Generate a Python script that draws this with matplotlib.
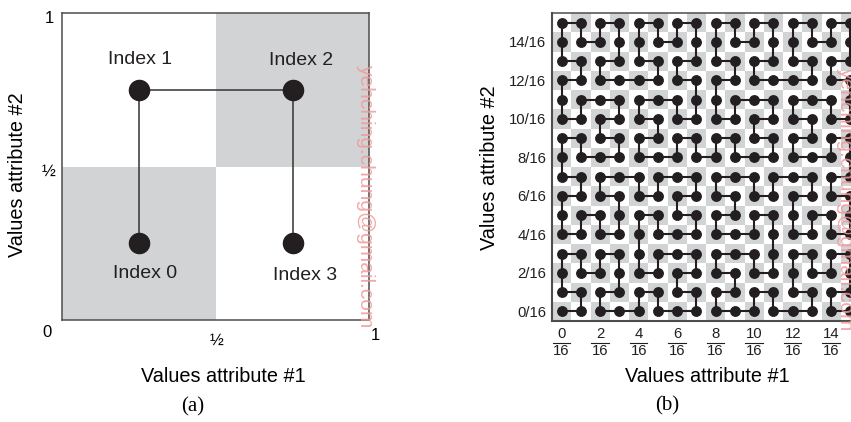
import numpy as np
import matplotlib
matplotlib.use("Agg")
import matplotlib.pyplot as plt
from matplotlib.colors import ListedColormap
import matplotlib.transforms as mtransforms

plt.rcParams['font.family'] = ['Liberation Sans', 'DejaVu Sans']

# ---------------- data ----------------
# panel (a): order-1 curve
idx_x = [0.25, 0.25, 0.75, 0.75]
idx_y = [0.25, 0.75, 0.75, 0.25]
idx_labels = ["Index 0", "Index 1", "Index 2", "Index 3"]
a_tick_labels = ["0", "\u00bd", "1"]

# panel (b): order-4 curve as a sequence of unit moves
MOVES = (
    "RULUURDRURDDLDR" "R" "URDRRULURULLDLU" "U" "URDRRULURULLDLU" "L" "LDRDDLULDLUURUL"
    "U"
    "URDRRULURULLDLU" "U" "RULUURDRURDDLDR" "R" "RULUURDRURDDLDR" "D" "DLULLDRDLDRRURD"
    "R"
    "URDRRULURULLDLU" "U" "RULUURDRURDDLDR" "R" "RULUURDRURDDLDR" "D" "DLULLDRDLDRRURD"
    "D"
    "LDRDDLULDLUURUL" "L" "DLULLDRDLDRRURD" "D" "DLULLDRDLDRRURD" "R" "RULUURDRURDDLDR"
)
GRID_N = 16
b_tick_nums = [0, 2, 4, 6, 8, 10, 12, 14]
b_tick_den = 16

GREY = "#d1d3d4"
INK = "#231f20"
WATER = "#f19a9a"

W, H = 851, 422
fig = plt.figure(figsize=(W / 100, H / 100), dpi=100)

def fx(px):
    return px / W

def fy(py):
    return 1 - py / H

# ---------------- panel (a) ----------------
axa = fig.add_axes([fx(62.3), fy(320), 307 / W, 306.7 / H])
axa.set_xlim(0, 1)
axa.set_ylim(0, 1)
cmap = ListedColormap(["white", GREY])
checker_a = np.array([[1, 0], [0, 1]])
axa.pcolormesh([0, 0.5, 1], [0, 0.5, 1], checker_a, cmap=cmap, vmin=0, vmax=1)
axa.plot(idx_x, idx_y, color="#333333", lw=1.1, zorder=2)
axa.plot(idx_x, idx_y, 'o', color=INK, ms=14.5, zorder=3, lw=0)
offs = [(4, -22), (1, 22), (6, 21), (9, -23)]
for x, y, lab, off in zip(idx_x, idx_y, idx_labels, offs):
    axa.annotate(lab, (x, y), xytext=off, textcoords='offset points',
                 ha='center', va='center', fontsize=14, color=INK)
axa.set_xticks([])
axa.set_yticks([])
for s in axa.spines.values():
    s.set_color("#4d4d4d")
    s.set_linewidth(1.1)

# tick labels of (a)
axa.text(-0.05, -0.042, a_tick_labels[0], transform=axa.transAxes, ha='center', va='center', fontsize=12)
axa.text(0.503, -0.065, a_tick_labels[1], transform=axa.transAxes, ha='center', va='center', fontsize=12)
axa.text(1.021, -0.052, a_tick_labels[2], transform=axa.transAxes, ha='center', va='center', fontsize=12)
axa.text(-0.044, 0.484, a_tick_labels[1], transform=axa.transAxes, ha='center', va='center', fontsize=12)
axa.text(-0.043, 0.982, a_tick_labels[2], transform=axa.transAxes, ha='center', va='center', fontsize=12)

fig.text(fx(223), fy(377), "Values attribute #1", ha='center', va='center', fontsize=14.3)
fig.text(fx(18), fy(175), "Values attribute #2", ha='center', va='center', fontsize=14.3, rotation=90)
fig.text(fx(193), fy(407), "(a)", ha='center', va='center', fontsize=15,
         family=['Liberation Serif', 'DejaVu Serif'])

# ---------------- panel (b) ----------------
axb = fig.add_axes([fx(552), fy(321), 308 / W, 308 / H])
axb.set_xlim(0, GRID_N)
axb.set_ylim(0, GRID_N)
ii, jj = np.meshgrid(np.arange(GRID_N), np.arange(GRID_N))
checker_b = ((ii + jj) % 2 == 0).astype(int)
edges = np.arange(GRID_N + 1)
axb.pcolormesh(edges, edges, checker_b, cmap=cmap, vmin=0, vmax=1)

step = {"R": (1, 0), "L": (-1, 0), "U": (0, 1), "D": (0, -1)}
px_, py_ = [0], [0]
for m in MOVES:
    dx, dy = step[m]
    px_.append(px_[-1] + dx)
    py_.append(py_[-1] + dy)
cx = np.array(px_) + 0.5
cy = np.array(py_) + 0.5
axb.plot(cx, cy, color=INK, lw=1.5, zorder=2, solid_joinstyle='miter')
axb.plot(cx, cy, 'o', color=INK, ms=6.8, zorder=3, lw=0)

axb.set_yticks([n + 0.5 for n in b_tick_nums])
axb.set_yticklabels([f"{n}/{b_tick_den}" for n in b_tick_nums], fontsize=10.7, color=INK)
axb.tick_params(axis='y', length=0, pad=4)
axb.set_xticks([])
for s in axb.spines.values():
    s.set_color("#4d4d4d")
    s.set_linewidth(1.1)
axb.spines['left'].set_linewidth(1.5)
axb.spines['bottom'].set_linewidth(1.5)

trans = mtransforms.blended_transform_factory(axb.transData, axb.transAxes)
for n in b_tick_nums:
    xc = n + 0.5
    axb.text(xc, -13 / 308, str(n), transform=trans, ha='center', va='center', fontsize=10.7, color=INK)
    axb.text(xc, -30 / 308, str(b_tick_den), transform=trans, ha='center', va='center', fontsize=10.7, color=INK)
    axb.plot([xc - 0.45, xc + 0.45], [-22 / 308, -22 / 308], transform=trans,
             color=INK, lw=0.8, clip_on=False)

fig.text(fx(707), fy(377), "Values attribute #1", ha='center', va='center', fontsize=14.3)
fig.text(fx(489), fy(168), "Values attribute #2", ha='center', va='center', fontsize=14.3, rotation=90)
fig.text(fx(667), fy(406), "(b)", ha='center', va='center', fontsize=15,
         family=['Liberation Serif', 'DejaVu Serif'])

# watermarks
fig.text(fx(366), fy(196), "yehching.chung@gmail.com", rotation=-90, ha='center', va='center',
         fontsize=15, color=WATER, alpha=0.85, zorder=10)
fig.text(fx(846), fy(199), "yehching.chung@gmail.com", rotation=-90, ha='center', va='center',
         fontsize=15, color=WATER, alpha=0.85, zorder=10)

fig.savefig("out.png", dpi=100)
